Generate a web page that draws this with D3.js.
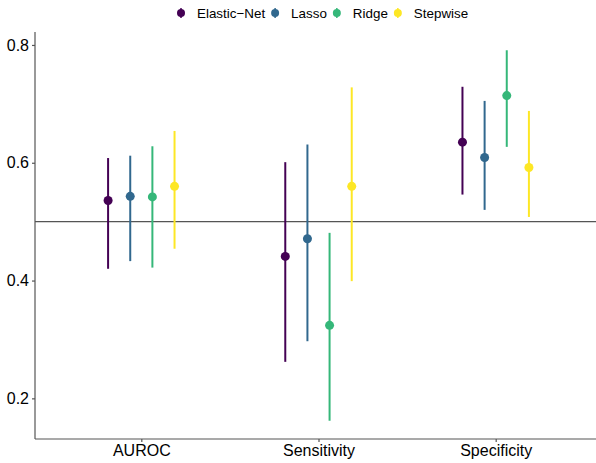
<!DOCTYPE html>
<html>
<head>
<meta charset="utf-8">
<script src="https://cdn.jsdelivr.net/npm/d3@7"></script>
<style>
  body { margin: 0; background: #fff; }
  svg text { font-family: "Liberation Sans", Arial, sans-serif; }
</style>
</head>
<body>
<div class="chart"></div>
<script>
// metrics and models
var metrics = ["AUROC", "Sensitivity", "Specificity"];
var models = ["Elastic\u2212Net", "Lasso", "Ridge", "Stepwise"];
var colors = ["#440154", "#31688E", "#35B779", "#FDE725"];

// estimate, lower, upper per model (order of metrics)
var elasticNet = [[0.536, 0.420, 0.608], [0.441, 0.262, 0.601], [0.635, 0.546, 0.729]];
var lasso      = [[0.543, 0.433, 0.612], [0.471, 0.297, 0.631], [0.609, 0.520, 0.705]];
var ridge      = [[0.542, 0.422, 0.628], [0.324, 0.162, 0.481], [0.714, 0.627, 0.791]];
var stepwise   = [[0.560, 0.454, 0.654], [0.560, 0.399, 0.728], [0.592, 0.508, 0.688]];

var yTicks = [0.2, 0.4, 0.6, 0.8];
var refLine = 0.5;

var width = 596, height = 463;
var margin = {left: 35, top: 32, bottom: 24};
// panel runs a little past the right edge of the picture
var panelRight = 602;

var svg = d3.select('.chart')
    .append('svg')
    .attr('width', width)
    .attr('height', height);

var x = d3.scalePoint()
    .domain(metrics)
    .range([margin.left, panelRight])
    .padding(0.6);

var y = d3.scaleLinear()
    .domain([0.131, 0.822])
    .range([height - margin.bottom, margin.top]);

// dodge within each metric
var step = x.step();
var dodge = d3.scalePoint()
    .domain(models)
    .range([-0.1875 * step, 0.1875 * step]);

var rows = [];
[elasticNet, lasso, ridge, stepwise].forEach(function(series, mi){
    series.forEach(function(v, ci){
        rows.push({model: models[mi], color: colors[mi], metric: metrics[ci], est: v[0], lo: v[1], hi: v[2]});
    });
});

// reference line
svg.append('line')
    .attr('x1', margin.left).attr('x2', width)
    .attr('y1', y(refLine)).attr('y2', y(refLine))
    .style('stroke', '#555')
    .style('stroke-width', 1.2);

// error bars + points
var g = svg.selectAll('g.pr')
    .data(rows)
    .enter()
    .append('g')
    .attr('class', 'pr');

g.append('line')
    .attr('x1', function(d){ return x(d.metric) + dodge(d.model); })
    .attr('x2', function(d){ return x(d.metric) + dodge(d.model); })
    .attr('y1', function(d){ return y(d.lo); })
    .attr('y2', function(d){ return y(d.hi); })
    .style('stroke', function(d){ return d.color; })
    .style('stroke-width', 2);

g.append('circle')
    .attr('cx', function(d){ return x(d.metric) + dodge(d.model); })
    .attr('cy', function(d){ return y(d.est); })
    .attr('r', 4.5)
    .style('fill', function(d){ return d.color; });

// axes
var xAxis = d3.axisBottom(x).tickSize(3).tickPadding(3);
var yAxis = d3.axisLeft(y).tickValues(yTicks).tickSize(3).tickPadding(3).tickFormat(d3.format('.1f'));

var gx = svg.append('g')
    .attr('transform', 'translate(0,' + (height - margin.bottom) + ')')
    .call(xAxis);
gx.select('.domain').attr('d', 'M' + margin.left + ',0H' + width);

var gy = svg.append('g')
    .attr('transform', 'translate(' + margin.left + ',0)')
    .call(yAxis);
gy.select('.domain').attr('d', 'M0,' + margin.top + 'V' + (height - margin.bottom));

[gx, gy].forEach(function(a){
    a.selectAll('.domain').style('stroke', '#555').style('stroke-width', 1.2);
    a.selectAll('.tick line').style('stroke', '#555').style('stroke-width', 1.2);
    a.selectAll('.tick text').style('fill', '#000').style('font-size', '16px')
        .style('font-family', '"Liberation Sans", Arial, sans-serif');
});

// legend
var legend = svg.append('g').attr('class', 'legend');
var lx = 181;
models.forEach(function(m, i){
    var lg = legend.append('g').attr('transform', 'translate(' + lx + ',13)');
    lg.append('line')
        .attr('y1', -5).attr('y2', 5)
        .style('stroke', colors[i]).style('stroke-width', 1.5);
    lg.append('circle').attr('r', 4).style('fill', colors[i]);
    var t = lg.append('text')
        .attr('x', 16).attr('dy', '0.35em')
        .style('font-size', '13.4px')
        .text(m);
    lx += 16 + t.node().getComputedTextLength() + 10;
});
</script>
</body>
</html>
